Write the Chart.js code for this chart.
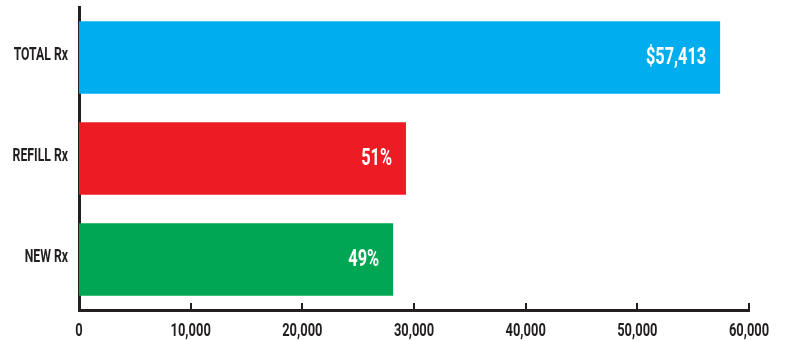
<!DOCTYPE html>
<html>
<head>
<meta charset="utf-8">
<script src="https://cdn.jsdelivr.net/npm/chart.js@4.4.1/dist/chart.umd.min.js"></script>
<style>
  html, body { margin: 0; padding: 0; background: #fff; }
  #wrap { width: 785px; height: 341px; }
</style>
</head>
<body>
<div id="wrap"><canvas id="chart"></canvas></div>
<script>
const categories = ["TOTAL Rx", "REFILL Rx", "NEW Rx"];
const values = [57413, 29281, 28132];
const barLabels = ["$57,413", "51%", "49%"];
const barColors = ["#00aeef", "#ed1c24", "#00a651"];
const xTicks = [0, 10000, 20000, 30000, 40000, 50000, 60000];

const fontFamily = "Roboto, 'Liberation Sans', sans-serif";
const ink = "#231f20";
const squeeze = 0.68; // condensed look

// draw text squeezed horizontally, anchored at (x, y)
function narrowText(ctx, text, x, y, align) {
    ctx.save();
    ctx.translate(x, y);
    ctx.scale(squeeze, 1);
    ctx.textAlign = align;
    ctx.fillText(text, 0, 0);
    ctx.restore();
}

// tick marks, axis labels and value labels
const drawLabels = {
    id: "drawLabels",
    afterDraw(chart) {
        const ctx = chart.ctx;
        const x = chart.scales.x;
        const y = chart.scales.y;
        const area = chart.chartArea;
        ctx.save();

        // small upward ticks on the x axis
        ctx.strokeStyle = ink;
        ctx.lineWidth = 2;
        xTicks.forEach(v => {
            const px = Math.round(x.getPixelForValue(v));
            ctx.beginPath();
            ctx.moveTo(px, area.bottom);
            ctx.lineTo(px, area.bottom - 7);
            ctx.stroke();
        });

        ctx.fillStyle = ink;
        ctx.textBaseline = "middle";
        ctx.font = "bold 19px " + fontFamily;
        xTicks.forEach(v => {
            narrowText(ctx, v.toLocaleString("en-US"), x.getPixelForValue(v), area.bottom + 21, "center");
        });
        ctx.font = "bold 18px " + fontFamily;
        categories.forEach((c, i) => {
            narrowText(ctx, c, area.left - 11, y.getPixelForValue(i) - 2, "right");
        });

        // white labels inside bar ends
        ctx.fillStyle = "#ffffff";
        ctx.font = "bold 24px " + fontFamily;
        chart.getDatasetMeta(0).data.forEach((bar, i) => {
            narrowText(ctx, barLabels[i], bar.x - 14, bar.y, "right");
        });
        ctx.restore();
    }
};

new Chart(document.getElementById("chart"), {
    type: "bar",
    data: {
        labels: categories,
        datasets: [{
            data: values,
            backgroundColor: barColors,
            borderWidth: 0,
            barPercentage: 0.72,
            categoryPercentage: 1.0
        }]
    },
    options: {
        indexAxis: "y",
        responsive: true,
        maintainAspectRatio: false,
        animation: false,
        layout: { padding: { top: 7, right: 36, bottom: 0, left: 0 } },
        plugins: {
            legend: { display: false },
            tooltip: { enabled: false }
        },
        scales: {
            x: {
                min: 0,
                max: 60000,
                afterBuildTicks(scale) {
                    scale.ticks = xTicks.map(v => ({ value: v }));
                },
                afterFit(scale) { scale.height = 31; },
                grid: { display: false, drawTicks: false },
                border: { display: true, color: ink, width: 3 },
                ticks: { display: false }
            },
            y: {
                afterFit(scale) { scale.width = 79; },
                grid: { display: false, drawTicks: false },
                border: { display: true, color: ink, width: 3 },
                ticks: { display: false }
            }
        }
    },
    plugins: [drawLabels]
});
</script>
</body>
</html>
